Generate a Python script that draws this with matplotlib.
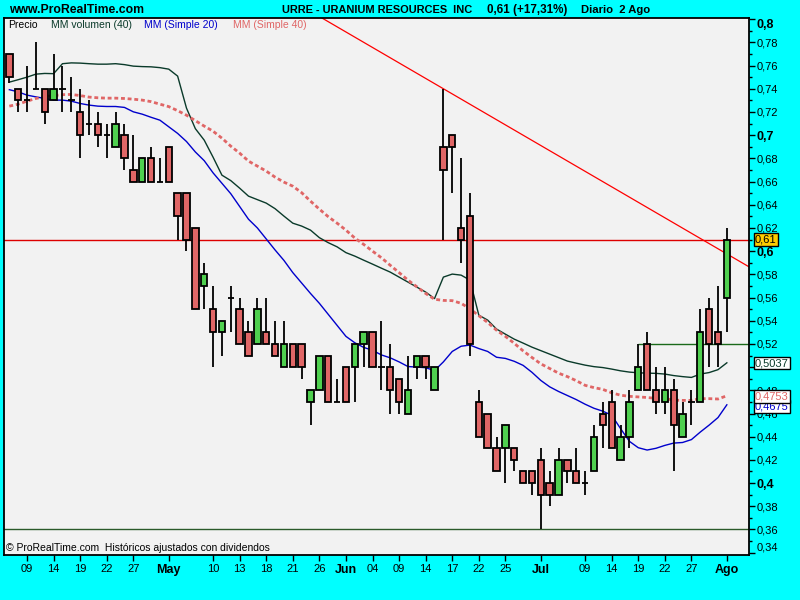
import matplotlib
matplotlib.use('Agg')
import matplotlib.pyplot as plt
from matplotlib.ticker import FixedLocator, FixedFormatter, MultipleLocator
from matplotlib.transforms import blended_transform_factory

plt.rcParams['font.family'] = ['Liberation Sans', 'DejaVu Sans']

# ---------------- data ----------------
opens = [.77, .74, .73, .74, .74, .73, .74, .73, .72, .71, .71, .70, .69, .70, .67, .66, .68, .66, .69,
         .65, .65, .62, .57, .55, .53, .56, .55, .53, .52, .53, .52, .50, .52, .52, .47, .48, .51, .47, .50,
         .50, .52, .53, .50, .50, .49, .46, .50, .51, .48, .69, .70, .62, .63, .47, .46, .43, .43, .43, .41,
         .41, .42, .40, .39, .42, .41, .40, .41, .46, .47, .42, .44, .48, .52, .48, .47, .48, .44, .47, .47,
         .55, .53, .56]
highs = [.77, .74, .76, .78, .74, .77, .76, .75, .74, .73, .72, .71, .72, .71, .70, .68, .69, .68, .69,
         .65, .65, .62, .59, .57, .54, .57, .56, .54, .56, .56, .54, .54, .52, .52, .48, .51, .51, .49, .50,
         .52, .53, .53, .54, .52, .49, .51, .51, .51, .50, .74, .70, .68, .65, .48, .46, .44, .45, .43, .41,
         .41, .43, .41, .43, .42, .43, .41, .45, .47, .48, .45, .48, .52, .53, .50, .50, .49, .47, .48, .55,
         .56, .57, .62]
lows = [.745, .72, .72, .74, .71, .73, .72, .72, .68, .70, .69, .68, .69, .67, .66, .66, .66, .66, .66,
        .61, .60, .55, .55, .50, .51, .53, .52, .51, .52, .52, .51, .50, .50, .49, .45, .48, .47, .47, .47,
        .47, .50, .50, .48, .46, .46, .46, .49, .49, .48, .61, .65, .59, .51, .44, .43, .41, .40, .41, .40,
        .39, .36, .38, .39, .40, .40, .39, .41, .43, .43, .42, .43, .48, .48, .46, .46, .41, .44, .45, .47,
        .50, .50, .53]
closes = [.75, .73, .73, .74, .72, .74, .74, .73, .70, .71, .70, .70, .71, .68, .66, .68, .66, .66, .66,
          .63, .61, .55, .58, .53, .54, .56, .52, .51, .55, .52, .51, .52, .50, .50, .48, .51, .47, .47, .47,
          .52, .53, .50, .50, .48, .47, .48, .51, .50, .50, .67, .69, .61, .52, .44, .43, .41, .45, .42, .40,
          .40, .39, .39, .42, .41, .40, .40, .44, .45, .43, .44, .47, .50, .48, .47, .48, .45, .46, .47, .53,
          .52, .52, .61]

mm_simple20 = [.7392, .7373, .7345, .7330, .7316, .7302, .7302, .7293, .7273, .7259, .7250, .7247, .7247,
               .7239, .7201, .7181, .7154, .7129, .7072, .7015, .6945, .6855, .6780, .6675, .6585, .6495,
               .6385, .6275, .6200, .6105, .6010, .5920, .5815, .5725, .5635, .5550, .5455, .5360, .5265,
               .5210, .5170, .5145, .5105, .5080, .5045, .5005, .5000, .4995, .4970, .5045, .5135, .5180,
               .5190, .5160, .5135, .5085, .5075, .5050, .5015, .4955, .4885, .4830, .4790, .4755, .4720,
               .4680, .4645, .4620, .4585, .4470, .4360, .4305, .4285, .4300, .4325, .4345, .4350, .4375,
               .4440, .4500, .4565, .4675]
mm_simple40 = [.7250, .7267, .7293, .7316, .7332, .7341, .7349, .7351, .7341, .7328, .7322, .7319, .7319,
               .7316, .7310, .7302, .7289, .7267, .7246, .7211, .7172, .7125, .7078, .7034, .6974, .6905,
               .6845, .6776, .6733, .6690, .6638, .6595, .6560, .6504, .6431, .6362, .6297, .6241, .6181,
               .6113, .6058, .6000, .5943, .5878, .5815, .5750, .5693, .5635, .5585, .5575, .5573, .5550,
               .5503, .5443, .5385, .5318, .5265, .5205, .5140, .5083, .5028, .4988, .4948, .4918, .4883,
               .4843, .4823, .4808, .4778, .4758, .4748, .4743, .4738, .4730, .4730, .4715, .4713, .4713,
               .4728, .4728, .4725, .4753]
mm_volumen40 = [.7457, .7478, .7500, .7526, .7532, .7530, .7616, .7623, .7621, .7616, .7612, .7612, .7616,
                .7608, .7595, .7591, .7589, .7582, .7569, .7509, .7233, .7056, .6957, .6810, .6655, .6608,
                .6543, .6474, .6444, .6414, .6366, .6302, .6241, .6216, .6181, .6116, .6073, .6037, .5987,
                .5957, .5922, .5888, .5853, .5819, .5776, .5733, .5690, .5647, .5591, .5776, .5802, .5793,
                .5750, .5448, .5405, .5328, .5284, .5241, .5207, .5172, .5142, .5112, .5082, .5052, .5034,
                .5017, .5004, .4996, .4983, .4968, .4957, .4951, .4948, .4946, .4940, .4927, .4918, .4911,
                .4940, .4953, .4978, .5037]

xtick_pos = [2, 5, 8, 11, 14, 18, 23, 26, 29, 32, 35, 38, 41, 44, 47, 50, 53, 56, 60, 65, 68, 71, 74, 77, 81]
xtick_labels = ['09', '14', '19', '22', '27', 'May', '10', '13', '18', '21', '26', 'Jun', '04', '09', '14',
                '17', '22', '25', 'Jul', '09', '14', '19', '22', '27', 'Ago']
months = ['May', 'Jun', 'Jul', 'Ago']

# '0,5' is fully hidden behind the 0,5037 value box in the reference
ytick_vals = [0.34, 0.36, 0.38, 0.40, 0.42, 0.44, 0.46, 0.48, 0.50, 0.52, 0.54, 0.56, 0.58, 0.60,
              0.62, 0.64, 0.66, 0.68, 0.70, 0.72, 0.74, 0.76, 0.78, 0.80]
ytick_labels = ['0,34', '0,36', '0,38', '0,4', '0,42', '0,44', '0,46', '0,48', '', '0,52', '0,54',
                '0,56', '0,58', '0,6', '0,62', '0,64', '0,66', '0,68', '0,7', '0,72', '0,74', '0,76',
                '0,78', '0,8']
bold_ylabels = ['0,4', '0,5', '0,6', '0,7', '0,8']

# drawn lines
hline_red = 0.61
hline_green_full = 0.36
hline_green_part = 0.52
hline_green_part_start = 71
trend_point = (49, 0.74)
trend_slope = -0.00445

last_close_label = '0,61'
ma_labels = [('0,5037', 0.5034, '#0a3a2a'), ('0,4675', 0.4660, '#0000cc'), ('0,4753', 0.4748, '#e06666')]

# ---------------- styling ----------------
CYAN = '#00ffff'
BG = '#f2f2f2'
RED_C = '#e06666'
GREEN_C = '#4fd04f'
BLUE = '#0000cc'
DARK = '#0a3a2a'
SALMON = '#e06666'

W, H = 800, 600
fig = plt.figure(figsize=(8, 6), dpi=100, facecolor=CYAN)
ax = fig.add_axes([4 / W, 1 - 555 / H, 745 / W, 537 / H])
ax.set_facecolor(BG)

n = len(closes)
xs = list(range(n))

# reference lines
ax.axhline(hline_red, color='#dd0000', lw=1.0, zorder=1)
ax.axhline(hline_green_full, color='#2a5a2a', lw=1.0, zorder=1)
ax.hlines(hline_green_part, hline_green_part_start, 90, color='#1a6a1a', lw=1.0, zorder=1)
ax.axline(trend_point, slope=trend_slope, color='#ff0000', lw=0.9, zorder=1)

# moving averages
ax.plot(xs, mm_volumen40, color=DARK, lw=1.0, zorder=2)
ax.plot(xs, mm_simple20, color=BLUE, lw=1.0, zorder=2)
ax.plot(xs, mm_simple40, color=SALMON, lw=2.0, ls=(0, (1.4, 1.0)), zorder=2)

# candles
body_w = 0.72
for i in range(n):
    o, h, l, c = opens[i], highs[i], lows[i], closes[i]
    ax.vlines(i, l, h, color='black', lw=1.3, zorder=3)
    if abs(c - o) < 1e-9:
        ax.hlines(o, i - body_w / 2, i + body_w / 2, color='black', lw=1.3, zorder=4)
    else:
        col = GREEN_C if c > o else RED_C
        ax.bar(i, abs(c - o), bottom=min(o, c), width=body_w, color=col,
               edgecolor='black', linewidth=1.3, zorder=4)

ax.set_xlim(-0.6, 83.5)
ax.set_ylim(0.338, 0.801)

for s in ax.spines.values():
    s.set_linewidth(1.3)
    s.set_color('black')

# y axis on right
ax.yaxis.tick_right()
ax.yaxis.set_major_locator(FixedLocator(ytick_vals))
ax.yaxis.set_major_formatter(FixedFormatter(ytick_labels))
ax.yaxis.set_minor_locator(MultipleLocator(0.01))
ax.tick_params(axis='y', which='major', direction='out', length=4, width=1, pad=1.5,
               labelsize=8, right=True, left=False)
ax.tick_params(axis='y', which='minor', direction='out', length=2, width=1, right=True, left=False)
for lab in ax.get_yticklabels():
    if lab.get_text() in bold_ylabels:
        lab.set_fontweight('bold')
        lab.set_fontsize(9)
    if lab.get_text() == '0,8':
        lab.set_va('top')
    if lab.get_text() == '0,34':
        lab.set_va('bottom')

# x axis
ax.set_xticks(xtick_pos)
ax.set_xticklabels(xtick_labels)
ax.tick_params(axis='x', direction='out', length=4, width=1, pad=2.5, labelsize=8)
for lab in ax.get_xticklabels():
    if lab.get_text() in months:
        lab.set_fontweight('bold')
        lab.set_fontsize(9)

# right-side value labels
tr = blended_transform_factory(ax.transAxes, ax.transData)
for txt, yv, col in ma_labels:
    ax.text(1.008, yv, txt, transform=tr, ha='left', va='center', fontsize=8, color=col,
            clip_on=False, zorder=10,
            bbox=dict(boxstyle='square,pad=0.12', fc='white', ec='black', lw=1))
ax.text(1.008, hline_red, last_close_label, transform=tr, ha='left', va='center', fontsize=8,
        color='black', clip_on=False, zorder=10,
        bbox=dict(boxstyle='square,pad=0.12', fc='#ffcc00', ec='black', lw=1))

# legend line inside plot
def px(x, y):
    return x / W, 1 - y / H

leg = [('Precio', 8, 'black'), ('MM volumen (40)', 51, DARK), ('MM (Simple 20)', 144, BLUE),
       ('MM (Simple 40)', 233, SALMON)]
for t, x0, col in leg:
    fig.text(*px(x0, 25), t, color=col, fontsize=7.5, ha='left', va='center')

fig.text(*px(6, 548), '\u00a9 ProRealTime.com  Hist\u00f3ricos ajustados con dividendos', fontsize=7.5,
         ha='left', va='center', color='black')

# header
fig.text(*px(9, 10), 'www.ProRealTime.com', fontsize=8.8, fontweight='bold', ha='left', va='center')
fig.text(*px(282, 10), 'URRE - URANIUM RESOURCES  INC', fontsize=7.9, fontweight='bold', ha='left', va='center')
fig.text(*px(487, 10), '0,61 (+17,31%)', fontsize=8.4, fontweight='bold', ha='left', va='center')
fig.text(*px(581, 10), 'Diario  2 Ago', fontsize=8.1, fontweight='bold', ha='left', va='center')

fig.savefig('out.png', dpi=100, facecolor=CYAN)
